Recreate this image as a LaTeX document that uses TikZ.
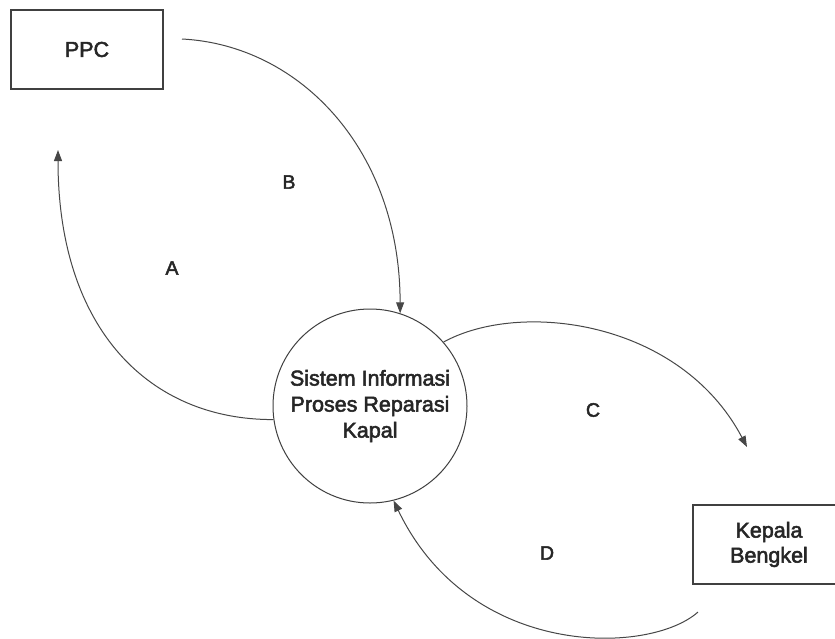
\documentclass[tikz,border=0pt]{standalone}
\usepackage{fontspec}
\setmainfont{Liberation Sans}
\newfontfamily\dfdfont[FakeBold=2.5]{Liberation Sans}
\usetikzlibrary{arrows.meta}
\begin{document}
\begin{tikzpicture}[x=1pt,y=-1pt,
  entity/.style={draw=black!75, line width=1.1pt, minimum width=152pt, minimum height=79pt,
    align=center, inner sep=0pt, text=black!85, font=\dfdfont\fontsize{21.5}{25}\selectfont},
  process/.style={circle, draw=black!75, line width=1pt, minimum size=194pt, inner sep=0pt,
    align=center, text=black!85, font=\dfdfont\fontsize{21.5}{26}\selectfont},
  flow/.style={draw=black!72, line width=1pt, -{Triangle[length=11pt,width=8pt]}},
  flowlabel/.style={text=black!85, font=\dfdfont\fontsize{19.5}{23}\selectfont}]
\clip (0,0) rectangle (835,638);
\fill[white] (0,0) rectangle (835,638);

% external entities and the process
\node[entity] (ppc) at (87,49.5) {PPC};
\node[entity] (kb) at (769,544.5) {Kepala\\Bengkel};
\node[process] (sys) at (370,406) {Sistem Informasi\\Proses Reparasi\\Kapal};

% free ends of the data flows
\coordinate (bstart) at (182,39);
\coordinate (atip) at (58,150);
\coordinate (ctip) at (747,447);
\coordinate (dstart) at (698,612);

% data flows
\draw[flow] (bstart) .. controls (300,45) and (400,150) .. (sys.72);
\draw[flow] (sys.188) .. controls (150,420) and (58,330) .. (atip);
\draw[flow] (sys.41) .. controls (520,300) and (680,320) .. (ctip);
\draw[flow] (dstart) .. controls (650,655) and (470,660) .. (sys.284);

% flow labels
\node[flowlabel] (la) at (172,268) {A};
\node[flowlabel] (lb) at (289,182) {B};
\node[flowlabel] (lc) at (593,410) {C};
\node[flowlabel] (ld) at (547,553) {D};
\end{tikzpicture}
\end{document}
